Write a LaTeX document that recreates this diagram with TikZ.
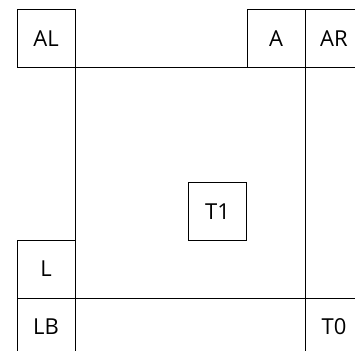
\documentclass[tikz,border=0pt]{standalone}
\usepackage{fontspec}
\setmainfont{Open Sans}
\tikzset{
  cell/.style={draw, line width=1pt, minimum size=58pt, inner sep=0pt, outer sep=0pt, font=\fontsize{22}{26}\selectfont},
  edge/.style={line width=1pt}
}
\begin{document}
\begin{tikzpicture}[x=1pt, y=-1pt]
    \useasboundingbox (0,0) rectangle (355,350);
    \clip (0,0) rectangle (355,350);

    %corner and edge cells
    \node[cell] (AL) at (46,39) {AL};
    \node[cell] (A) at (276,39) {A};
    \node[cell] (AR) at (334,39) {AR};
    \node[cell] (L) at (46,269) {L};
    \node[cell] (LB) at (46,327) {LB};
    \node[cell] (T0) at (334,327) {T0};

    %middle
    \node[cell] (T1) at (217.5,211.5) {T1};

    %borders
    \draw[edge] (AL.south east) -- (A.south west);
    \draw[edge] (AL.south east) -- (L.north east);
    \draw[edge] (A.south east) -- (T0.north west);
    \draw[edge] (L.south east) -- (T0.north west);

\end{tikzpicture}
\end{document}
